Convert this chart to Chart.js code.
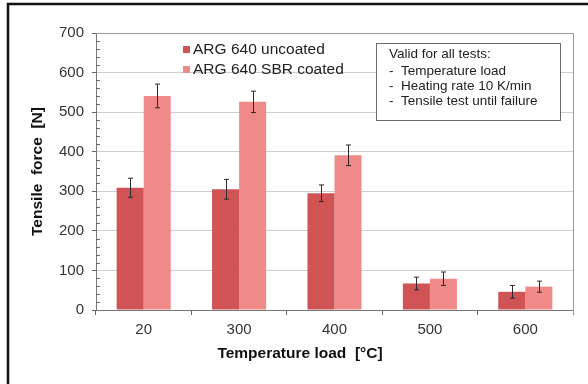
<!DOCTYPE html>
<html>
<head>
<meta charset="utf-8">
<script src="https://cdn.jsdelivr.net/npm/chart.js@4"></script>
<style>
html,body{margin:0;padding:0;background:#fff;}
#wrap{width:588px;height:384px;position:relative;}
</style>
</head>
<body>
<div id="wrap"><canvas id="c" width="588" height="384"></canvas></div>
<script>
const categories = ['20', '300', '400', '500', '600'];
const uncoated = [309, 305, 295, 67, 46];
const uncoatedErr = [24, 25, 21, 16, 16];
const coated = [541, 526, 391, 79, 59];
const coatedErr = [30, 27, 26, 17, 14];
const seriesNames = ['ARG 640 uncoated', 'ARG 640 SBR coated'];
const noteLines = ['Valid for all tests:', '-  Temperature load', '-  Heating rate 10 K/min', '-  Tensile test until failure'];
const yTitle = 'Tensile  force  [N]';
const xTitle = 'Temperature load  [°C]';

const FONT = '"Liberation Sans", Arial, sans-serif';
const errors = [uncoatedErr, coatedErr];

const decor = {
  id: 'decor',
  beforeDraw(chart) {
    const ctx = chart.ctx;
    ctx.save();
    ctx.fillStyle = '#fff';
    ctx.fillRect(0, 0, chart.width, chart.height);
    ctx.restore();
  },
  afterDatasetsDraw(chart) {
    const ctx = chart.ctx;
    const y = chart.scales.y;
    ctx.save();
    ctx.strokeStyle = '#2a2a2a';
    ctx.lineWidth = 1;
    chart.data.datasets.forEach((ds, di) => {
      const meta = chart.getDatasetMeta(di);
      meta.data.forEach((bar, i) => {
        const v = ds.data[i], e = errors[di][i];
        const x = Math.round(bar.x) + 0.5;
        const y1 = y.getPixelForValue(v + e), y2 = y.getPixelForValue(v - e);
        ctx.beginPath();
        ctx.moveTo(x, y1); ctx.lineTo(x, y2);
        ctx.moveTo(x - 2.5, y1); ctx.lineTo(x + 2.5, y1);
        ctx.moveTo(x - 2.5, y2); ctx.lineTo(x + 2.5, y2);
        ctx.stroke();
      });
    });
    ctx.restore();
  },
  afterDraw(chart) {
    const ctx = chart.ctx;
    const a = chart.chartArea;
    const y = chart.scales.y;
    ctx.save();
    ctx.strokeStyle = '#9a9a9a';
    ctx.lineWidth = 1;
    ctx.beginPath();
    ctx.moveTo(a.left, Math.round(a.top) + 0.5);
    ctx.lineTo(Math.round(a.right) + 0.5, Math.round(a.top) + 0.5);
    ctx.lineTo(Math.round(a.right) + 0.5, a.bottom + 4);
    ctx.stroke();
    ctx.strokeStyle = '#666';
    ctx.beginPath();
    for (let v = 0; v <= 700; v += 20) {
      if (v % 100 === 0) continue;
      const py = Math.round(y.getPixelForValue(v)) + 0.5;
      ctx.moveTo(a.left, py); ctx.lineTo(a.left + 4, py);
    }
    ctx.stroke();
    ctx.font = '15.5px ' + FONT;
    ctx.textBaseline = 'middle';
    chart.data.datasets.forEach((ds, i) => {
      const ly = 50 + i * 20;
      ctx.fillStyle = ds.backgroundColor;
      ctx.fillRect(183, ly - 4, 7, 7);
      ctx.fillStyle = '#222';
      ctx.fillText(seriesNames[i], 193, ly);
    });
    ctx.fillStyle = '#fff';
    ctx.fillRect(376, 43, 184, 77);
    ctx.strokeStyle = '#6a6a6a';
    ctx.lineWidth = 1;
    ctx.strokeRect(376.5, 43.5, 184, 77);
    ctx.fillStyle = '#222';
    ctx.font = '13.5px ' + FONT;
    const ys = [54, 71, 86, 101];
    noteLines.forEach((t, i) => ctx.fillText(t, 389, ys[i]));
    ctx.font = 'bold 15.5px ' + FONT;
    ctx.fillStyle = '#111';
    ctx.textAlign = 'center';
    ctx.fillText(xTitle, 300, 354);
    ctx.save();
    ctx.translate(38, (a.top + a.bottom) / 2);
    ctx.rotate(-Math.PI / 2);
    ctx.fillText(yTitle, 0, 0);
    ctx.restore();
    ctx.strokeStyle = '#111';
    ctx.lineWidth = 2.5;
    ctx.beginPath();
    ctx.moveTo(8, chart.height);
    ctx.lineTo(8, 4);
    ctx.lineTo(chart.width, 4);
    ctx.stroke();
    ctx.restore();
  }
};

new Chart(document.getElementById('c'), {
  type: 'bar',
  data: {
    labels: categories,
    datasets: [
      { label: seriesNames[0], data: uncoated, backgroundColor: '#D05456' },
      { label: seriesNames[1], data: coated, backgroundColor: '#EE8B89' }
    ]
  },
  options: {
    responsive: false,
    animation: false,
    devicePixelRatio: 1,
    layout: { padding: { left: 0, top: 33, right: 15, bottom: 0 } },
    categoryPercentage: 0.567,
    barPercentage: 1.0,
    plugins: { legend: { display: false }, tooltip: { enabled: false } },
    scales: {
      x: {
        afterFit(s) { s.height = 74; },
        grid: { offset: true, drawOnChartArea: false, drawTicks: true, tickLength: 5, color: '#666' },
        border: { color: '#777', width: 1 },
        ticks: { font: { family: FONT, size: 15 }, color: '#333', padding: 6 }
      },
      y: {
        min: 0, max: 700,
        afterFit(s) { s.width = 96; },
        grid: {
          color: (c) => c.tick && c.tick.value === 700 ? 'rgba(0,0,0,0)' : '#cfcfcf',
          tickColor: '#666', tickLength: 4
        },
        border: { color: '#777', width: 1 },
        ticks: { stepSize: 100, font: { family: FONT, size: 15 }, color: '#333', padding: 8 }
      }
    }
  },
  plugins: [decor]
});
</script>
</body>
</html>
